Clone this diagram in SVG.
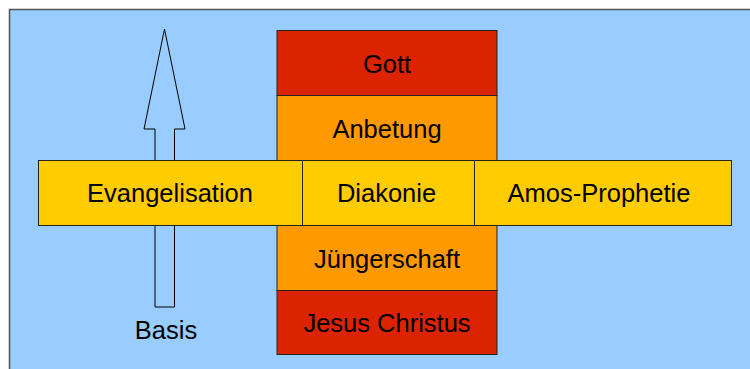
<svg xmlns="http://www.w3.org/2000/svg" width="750" height="369" viewBox="0 0 750 369">
  <style>
    .lbl { font-family: "Liberation Sans", Arial, sans-serif; font-size: 25.5px; fill: #000; text-anchor: middle; }
    .box { stroke: #222; stroke-width: 1; }
    .red { fill: #dc2300; }
    .orange { fill: #ff9900; }
    .yellow { fill: #ffcc00; }
  </style>
  <rect x="9.5" y="9.5" width="760" height="380" fill="#99ccff" stroke="#555" stroke-width="1.5"/>
  <g id="connectors">
    <path id="arrow" d="M164.5,29 L185,129 L174.5,129 L174.5,307 L155,307 L155,129 L144,129 Z" fill="#99ccff" stroke="#000" stroke-width="1"/>
  </g>
  <g id="gott">
    <rect class="box red" x="277" y="30.5" width="220" height="65"/>
    <text class="lbl" x="387" y="72.5">Gott</text>
  </g>
  <g id="anbetung">
    <rect class="box orange" x="277" y="95.5" width="220" height="65"/>
    <text class="lbl" x="387" y="137.5">Anbetung</text>
  </g>
  <g id="juengerschaft">
    <rect class="box orange" x="277" y="225.5" width="220" height="65"/>
    <text class="lbl" x="387" y="267.5">Jüngerschaft</text>
  </g>
  <g id="jesus">
    <rect class="box red" x="277" y="290.5" width="220" height="64"/>
    <text class="lbl" x="387" y="331.5">Jesus Christus</text>
  </g>
  <g id="evangelisation">
    <rect class="box yellow" x="38.5" y="160.5" width="264" height="65"/>
    <text class="lbl" x="170" y="202">Evangelisation</text>
  </g>
  <g id="diakonie">
    <rect class="box yellow" x="302.5" y="160.5" width="172" height="65"/>
    <text class="lbl" x="386.5" y="202">Diakonie</text>
  </g>
  <g id="amos">
    <rect class="box yellow" x="474.5" y="160.5" width="257" height="65"/>
    <text class="lbl" x="599" y="202">Amos-Prophetie</text>
  </g>
  <g id="basis">
    <text class="lbl" x="166" y="339">Basis</text>
  </g>
</svg>
